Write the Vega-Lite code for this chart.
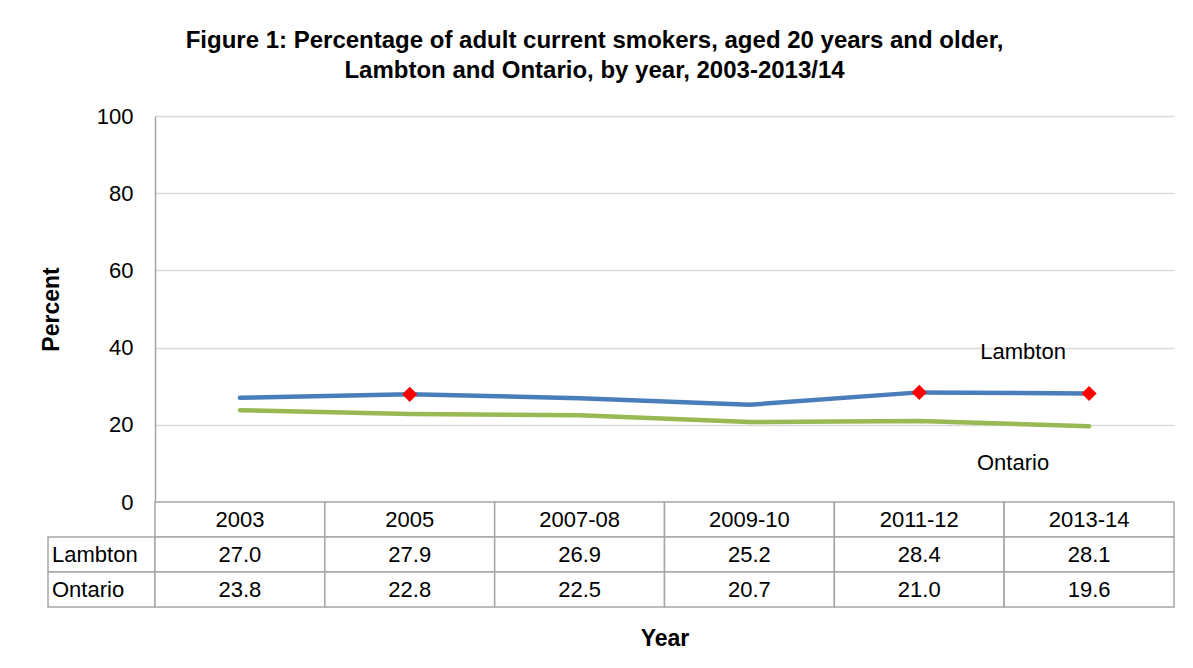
{
  "$schema": "https://vega.github.io/schema/vega-lite/v6.json",
  "background": "white",
  "padding": {"left": 40, "top": 29, "right": 5, "bottom": 5},
  "bounds": "flush",
  "spacing": 0,
  "columns": 2,
  "title": {
    "text": ["Figure 1: Percentage of adult current smokers, aged 20 years and older,", "Lambton and Ontario, by year, 2003-2013/14"],
    "fontSize": 24,
    "fontWeight": "bold",
    "font": "Liberation Sans",
    "color": "#000000",
    "lineHeight": 30,
    "anchor": "middle",
    "offset": 22,
    "dx": -13
  },
  "datasets": {
    "main": [
      {"year": "2003", "series": "Lambton", "value": 27.0, "sig": false},
      {"year": "2005", "series": "Lambton", "value": 27.9, "sig": true},
      {"year": "2007-08", "series": "Lambton", "value": 26.9, "sig": false},
      {"year": "2009-10", "series": "Lambton", "value": 25.2, "sig": false},
      {"year": "2011-12", "series": "Lambton", "value": 28.4, "sig": true},
      {"year": "2013-14", "series": "Lambton", "value": 28.1, "sig": true},
      {"year": "2003", "series": "Ontario", "value": 23.8, "sig": false},
      {"year": "2005", "series": "Ontario", "value": 22.8, "sig": false},
      {"year": "2007-08", "series": "Ontario", "value": 22.5, "sig": false},
      {"year": "2009-10", "series": "Ontario", "value": 20.7, "sig": false},
      {"year": "2011-12", "series": "Ontario", "value": 21.0, "sig": false},
      {"year": "2013-14", "series": "Ontario", "value": 19.6, "sig": false}
    ]
  },
  "concat": [
    {
      "width": 107,
      "height": 386,
      "data": {"values": [{"t": ""}]},
      "mark": {"type": "text"},
      "encoding": {"text": {"field": "t"}}
    },
    {
      "width": 1019,
      "height": 386,
      "data": {"name": "main"},
      "layer": [
        {
          "mark": {"type": "line", "strokeWidth": 4.5, "strokeCap": "round", "strokeJoin": "round"},
          "encoding": {
            "x": {"field": "year", "type": "ordinal", "scale": {"type": "point", "padding": 0.5, "domain": ["2003", "2005", "2007-08", "2009-10", "2011-12", "2013-14"]}, "axis": null},
            "y": {
              "field": "value", "type": "quantitative",
              "scale": {"domain": [0, 100], "nice": false},
              "axis": {
                "values": [0, 20, 40, 60, 80, 100],
                "title": "Percent",
                "titleFontSize": 23,
                "titleFontWeight": "bold",
                "titleColor": "#000000",
                "titlePadding": 33,
                "labelFontSize": 22,
                "labelColor": "#000000",
                "labelPadding": 22,
                "ticks": false,
                "domainColor": "#A6A6A6",
                "domainWidth": 1.5,
                "gridColor": "#D9D9D9",
                "gridWidth": 1.5
              }
            },
            "color": {"field": "series", "type": "nominal", "scale": {"domain": ["Lambton", "Ontario"], "range": ["#4A7EBB", "#98B954"]}, "legend": null}
          }
        },
        {
          "transform": [{"filter": "datum.sig"}],
          "mark": {"type": "point", "shape": "diamond", "filled": true, "size": 230, "color": "#FF0000", "opacity": 1},
          "encoding": {
            "x": {"field": "year", "type": "ordinal"},
            "y": {"field": "value", "type": "quantitative"}
          }
        },
        {
          "data": {"values": [{"label": "Lambton"}]},
          "mark": {"type": "text", "fontSize": 22, "dx": -66, "color": "#000000"},
          "encoding": {
            "x": {"datum": "2013-14", "type": "ordinal"},
            "y": {"datum": 38.9, "type": "quantitative"},
            "text": {"field": "label"}
          }
        },
        {
          "data": {"values": [{"label": "Ontario"}]},
          "mark": {"type": "text", "fontSize": 22, "dx": -76, "color": "#000000"},
          "encoding": {
            "x": {"datum": "2013-14", "type": "ordinal"},
            "y": {"datum": 10.1, "type": "quantitative"},
            "text": {"field": "label"}
          }
        }
      ]
    },
    {
      "width": 107,
      "height": 105,
      "data": {"name": "main"},
      "transform": [{"filter": "datum.year === '2003'"}],
      "layer": [
        {
          "mark": {"type": "rect", "fill": "white", "stroke": "#A6A6A6", "strokeWidth": 1.5},
          "encoding": {
            "x": {"datum": 0, "type": "quantitative", "scale": {"domain": [0, 1]}, "axis": null},
            "x2": {"datum": 1},
            "y": {"field": "series", "type": "nominal", "scale": {"domain": ["header", "Lambton", "Ontario"], "paddingInner": 0, "paddingOuter": 0}, "axis": null}
          }
        },
        {
          "mark": {"type": "text", "align": "left", "dx": 4, "fontSize": 22, "color": "#000000"},
          "encoding": {
            "x": {"datum": 0, "type": "quantitative"},
            "y": {"field": "series", "type": "nominal"},
            "text": {"field": "series"}
          }
        }
      ]
    },
    {
      "width": 1019,
      "height": 105,
      "data": {"name": "main"},
      "layer": [
        {
          "transform": [{"filter": "datum.series === 'Lambton'"}],
          "mark": {"type": "rect", "fill": "white", "stroke": "#A6A6A6", "strokeWidth": 1.5},
          "encoding": {
            "x": {
              "field": "year", "type": "ordinal",
              "scale": {"type": "band", "domain": ["2003", "2005", "2007-08", "2009-10", "2011-12", "2013-14"], "paddingInner": 0, "paddingOuter": 0},
              "axis": {"title": "Year", "labels": false, "ticks": false, "domain": false, "titleFontSize": 23, "titleFontWeight": "bold", "titleColor": "#000000", "titlePadding": 20}
            },
            "y": {"datum": "header", "type": "nominal", "scale": {"domain": ["header", "Lambton", "Ontario"], "paddingInner": 0, "paddingOuter": 0}, "axis": null}
          }
        },
        {
          "transform": [{"filter": "datum.series === 'Lambton'"}],
          "mark": {"type": "text", "fontSize": 22, "color": "#000000"},
          "encoding": {
            "x": {"field": "year", "type": "ordinal"},
            "y": {"datum": "header", "type": "nominal"},
            "text": {"field": "year"}
          }
        },
        {
          "mark": {"type": "rect", "fill": "white", "stroke": "#A6A6A6", "strokeWidth": 1.5},
          "encoding": {
            "x": {"field": "year", "type": "ordinal"},
            "y": {"field": "series", "type": "nominal"}
          }
        },
        {
          "mark": {"type": "text", "fontSize": 22, "color": "#000000"},
          "encoding": {
            "x": {"field": "year", "type": "ordinal"},
            "y": {"field": "series", "type": "nominal"},
            "text": {"field": "value", "type": "quantitative", "format": ".1f"}
          }
        }
      ]
    }
  ],
  "config": {
    "view": {"stroke": null},
    "font": "Liberation Sans",
    "axis": {"labelFont": "Liberation Sans", "titleFont": "Liberation Sans"}
  }
}
